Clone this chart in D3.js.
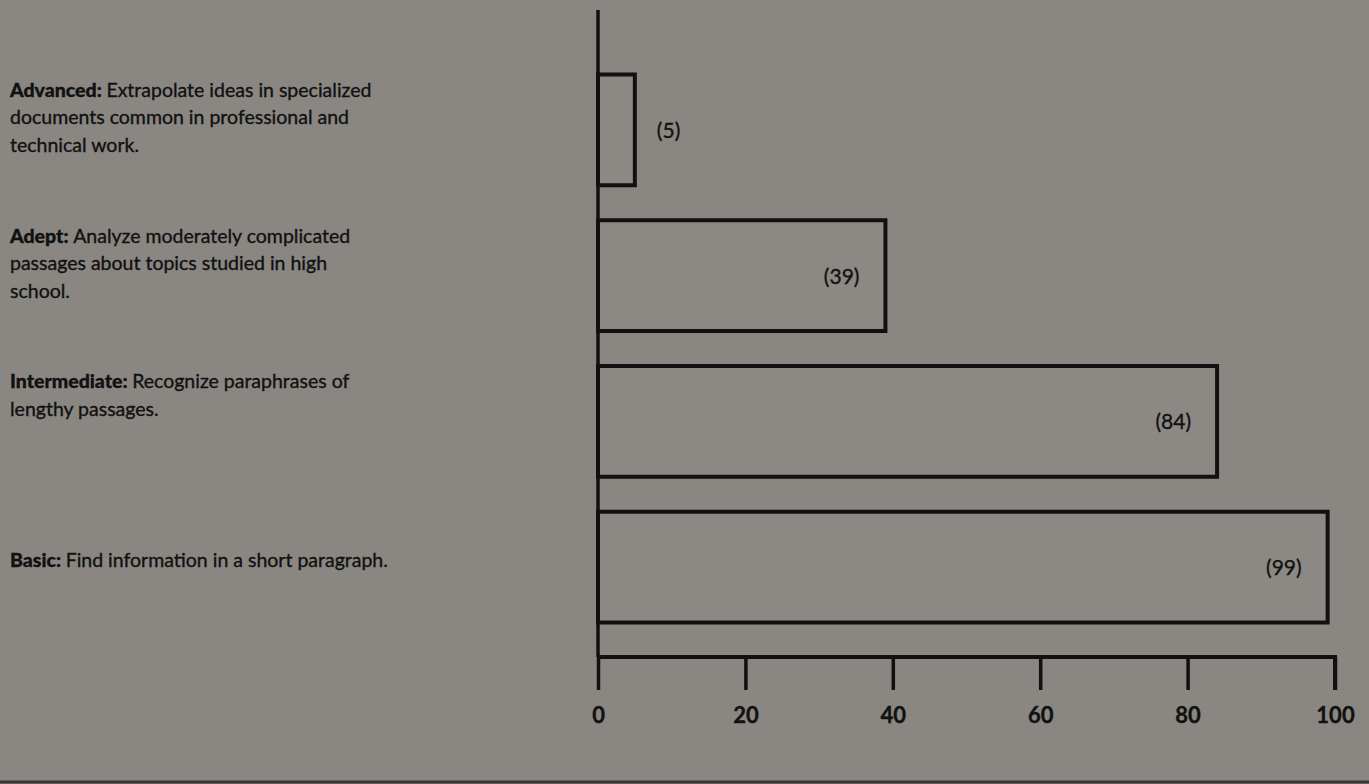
<!DOCTYPE html>
<html>
<head>
<meta charset="utf-8">
<script src="https://cdn.jsdelivr.net/npm/d3@7"></script>
<style>
  html, body { margin: 0; padding: 0; background: #8a8782; }
  svg { display: block; }
  text { font-family: Lato, "Open Sans", sans-serif; fill: #111; stroke: #111; stroke-width: 0.35px; }
</style>
</head>
<body>
<svg id="chart" width="1369" height="784"></svg>
<script>
// Reading proficiency levels and percentage of readers at or above each level
const levels = ["Advanced", "Adept", "Intermediate", "Basic"];
const percents = [5, 39, 84, 99];
const headings = ["Advanced:", "Adept:", "Intermediate:", "Basic:"];
const descriptions = [
  ["Extrapolate ideas in specialized", "documents common in professional and", "technical work."],
  ["Analyze moderately complicated", "passages about topics studied in high", "school."],
  ["Recognize paraphrases of", "lengthy passages."],
  ["Find information in a short paragraph."]
];
const tickValues = [0, 20, 40, 60, 80, 100];

const svg = d3.select("#chart");
const W = 1369, H = 784;
const ink = "#111";

const x = d3.scaleLinear().domain([0, 100]).range([598, 1335]);
const y = d3.scaleBand().domain(levels).range([57, 640])
  .paddingInner(0.24).paddingOuter(0.12);
const axisY = 657;

// vertical baseline
svg.append("line")
  .attr("x1", x(0)).attr("x2", x(0))
  .attr("y1", 10).attr("y2", axisY)
  .attr("stroke", ink).attr("stroke-width", 3.5);

// bars
svg.append("g").selectAll("rect")
  .data(levels)
  .join("rect")
  .attr("x", x(0))
  .attr("y", d => y(d))
  .attr("width", (d, i) => x(percents[i]) - x(0))
  .attr("height", y.bandwidth())
  .attr("fill", "#8c8984")
  .attr("stroke", ink)
  .attr("stroke-width", 4);

// value labels
svg.append("g").selectAll("text")
  .data(levels)
  .join("text")
  .attr("x", (d, i) => percents[i] < 15 ? x(percents[i]) + 22 : x(percents[i]) - 26)
  .attr("y", d => y(d) + y.bandwidth() / 2)
  .attr("dy", "0.38em")
  .attr("text-anchor", (d, i) => percents[i] < 15 ? "start" : "end")
  .style("font-size", "21px")
  .text((d, i) => `(${percents[i]})`);

// bottom axis
const axis = d3.axisBottom(x).tickValues(tickValues).tickSize(33).tickPadding(17)
  .tickFormat(d3.format("d"));
const gx = svg.append("g").attr("transform", `translate(0,${axisY})`).call(axis);
gx.select(".domain").attr("d", `M${x(0)},0H${x(100)}V33`).attr("stroke", ink).attr("stroke-width", 4).attr("fill", "none");
gx.selectAll(".tick line").attr("stroke", ink).attr("stroke-width", 3.5);
gx.selectAll(".tick text")
  .style("font-family", "Lato, sans-serif")
  .style("font-size", "22px")
  .style("font-weight", "700")
  .attr("fill", ink);

// category descriptions
const lineH = 27.5;
const labels = svg.append("g").selectAll("text")
  .data(levels)
  .join("text")
  .attr("x", 10)
  .attr("y", (d, i) => {
    const c = y(d) + y.bandwidth() / 2;
    return descriptions[i].length > 1 ? c - 33 : c;
  })
  .attr("dy", 13.5)
  .style("font-size", "19.5px");

labels.each(function (d, i) {
  const t = d3.select(this);
  descriptions[i].forEach((line, j) => {
    const ts = t.append("tspan").attr("x", 10).attr("dy", j === 0 ? 0 : lineH);
    if (j === 0) {
      ts.append("tspan").style("font-weight", "900").text(headings[i] + " ");
      ts.append("tspan").text(line);
    } else {
      ts.text(line);
    }
  });
});

// page rule along the bottom edge
svg.append("line")
  .attr("x1", 0).attr("x2", W).attr("y1", H - 2).attr("y2", H - 2)
  .attr("stroke", "#3a3836").attr("stroke-width", 3);
</script>
</body>
</html>
